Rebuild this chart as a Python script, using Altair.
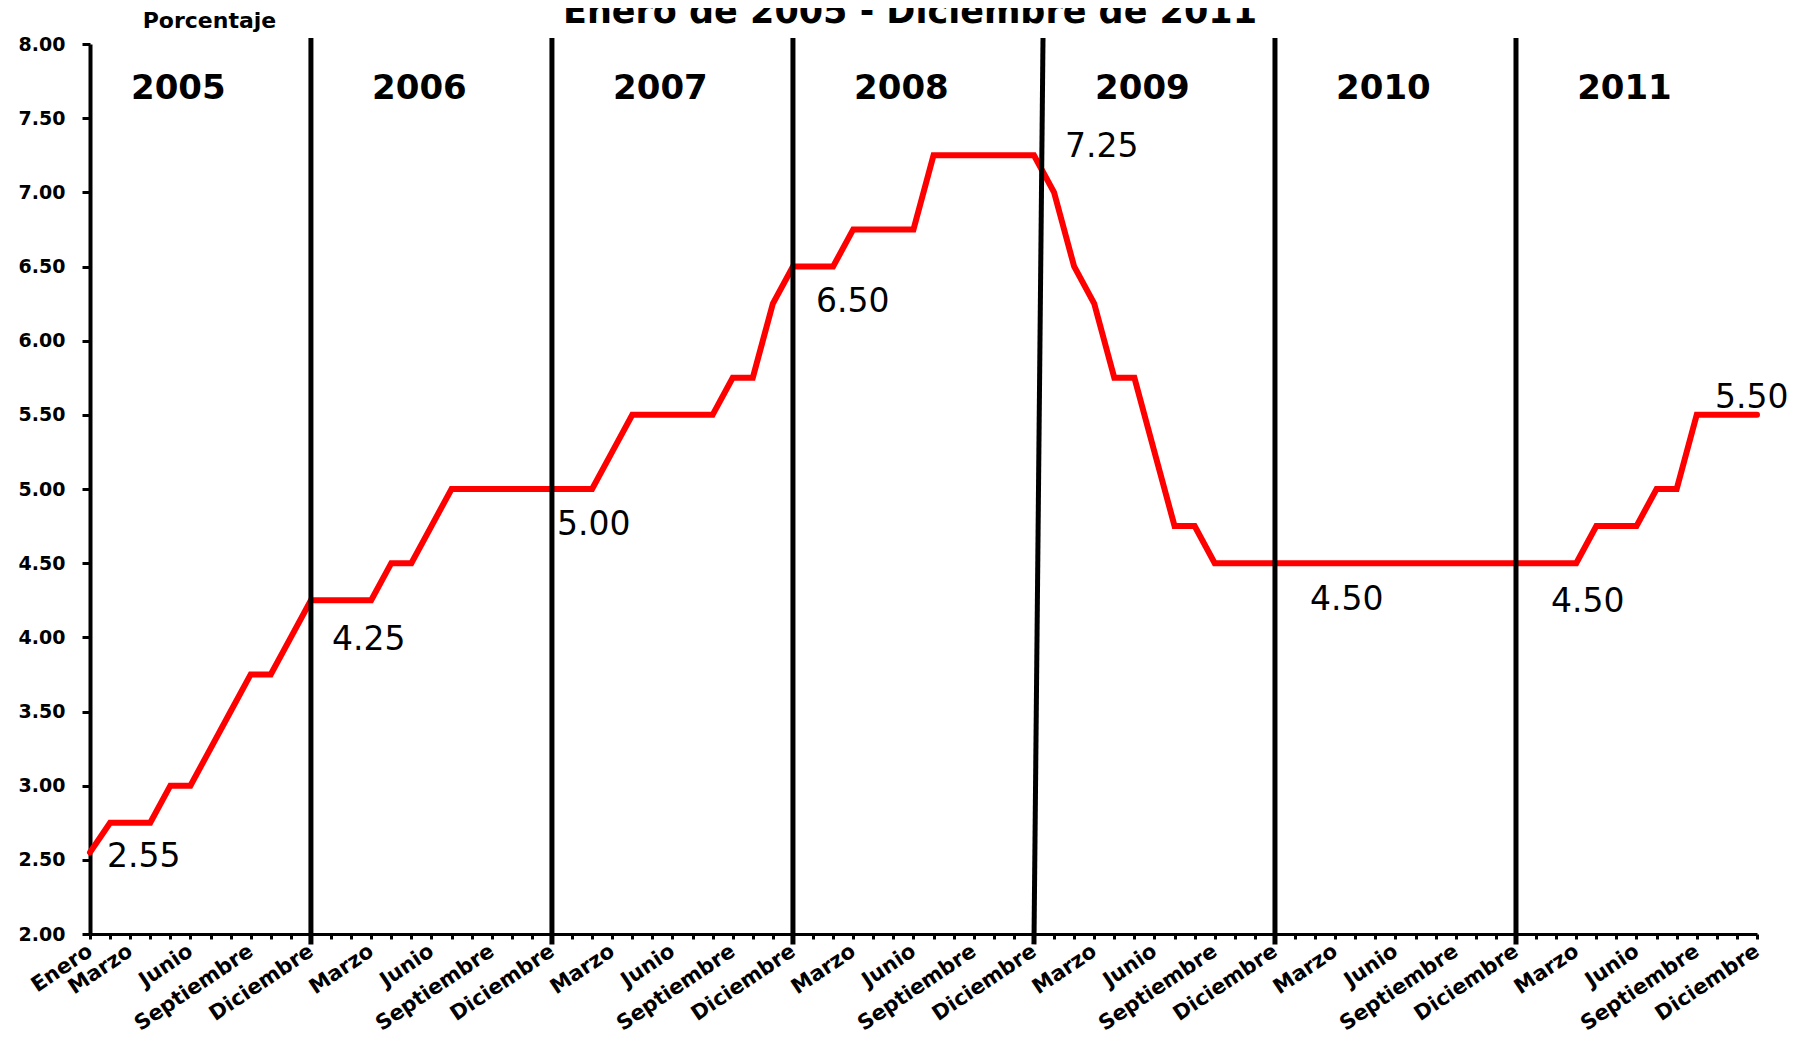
import json
import altair as alt
import pandas as pd

# ---------------- data ----------------
TITLE = "Enero de 2005 - Diciembre de 2011"
Y_TITLE = "Porcentaje"
YEARS = ["2005", "2006", "2007", "2008", "2009", "2010", "2011"]

RATE_2005 = [2.55, 2.75, 2.75, 2.75, 3.00, 3.00, 3.25, 3.50, 3.75, 3.75, 4.00, 4.25]
RATE_2006 = [4.25, 4.25, 4.25, 4.50, 4.50, 4.75, 5.00, 5.00, 5.00, 5.00, 5.00, 5.00]
RATE_2007 = [5.00, 5.00, 5.25, 5.50, 5.50, 5.50, 5.50, 5.50, 5.75, 5.75, 6.25, 6.50]
RATE_2008 = [6.50, 6.50, 6.75, 6.75, 6.75, 6.75, 7.25, 7.25, 7.25, 7.25, 7.25, 7.25]
RATE_2009 = [7.00, 6.50, 6.25, 5.75, 5.75, 5.25, 4.75, 4.75, 4.50, 4.50, 4.50, 4.50]
RATE_2010 = [4.50, 4.50, 4.50, 4.50, 4.50, 4.50, 4.50, 4.50, 4.50, 4.50, 4.50, 4.50]
RATE_2011 = [4.50, 4.50, 4.50, 4.75, 4.75, 4.75, 5.00, 5.00, 5.50, 5.50, 5.50, 5.50]
RATE = RATE_2005 + RATE_2006 + RATE_2007 + RATE_2008 + RATE_2009 + RATE_2010 + RATE_2011

TICK_LABELS = (
    ["Enero", "", "Marzo", "", "", "Junio", "", "", "Septiembre", "", "", "Diciembre"]
    + ["", "", "Marzo", "", "", "Junio", "", "", "Septiembre", "", "", "Diciembre"] * 6
)
Y_TICKS = [2.0, 2.5, 3.0, 3.5, 4.0, 4.5, 5.0, 5.5, 6.0, 6.5, 7.0, 7.5, 8.0]

LABEL_MONTHS = [0, 11, 23, 35, 47, 59, 71, 83]
SEPARATOR_MONTHS = [11, 23, 35, 47, 59, 71]

# ---------------- style ----------------
LABEL_DX = [17, 21, 5, 23, 31, 35, 35, -42]
LABEL_DY = [15, 50, 46, 45, 2, 47, 49, -7]
SEPARATOR_TILT = [0, 0, 0, 0.45, 0, 0]
YEAR_LABEL_OFFSET = 4.4
FONT = "DejaVu Sans"
RED = "#FF0000"

n = len(RATE)
df = pd.DataFrame({"month": list(range(n)), "rate": RATE})

x_scale = alt.Scale(domain=[0, n - 1], nice=False, zero=False)
y_scale = alt.Scale(domain=[2, 8], nice=False, zero=False)

label_expr = json.dumps(TICK_LABELS) + "[datum.value]"

x_axis = alt.Axis(
    values=list(range(n)), labelExpr=label_expr, title=None, grid=False,
    labelAngle=-34, labelAlign="right", labelBaseline="middle",
    labelPadding=10, labelFont=FONT, labelFontSize=21, labelFontWeight="bold",
    labelColor="black", labelOverlap=False, labelFlush=False, labelBound=False,
    tickSize=5, tickWidth=3, tickColor="black",
    domainColor="black", domainWidth=3,
)
y_axis = alt.Axis(
    values=Y_TICKS, format=".2f", grid=False,
    title=Y_TITLE, titleAngle=0, titleX=119, titleY=-17, titleAlign="center",
    titleBaseline="alphabetic", titleFont=FONT, titleFontSize=22,
    titleFontWeight="bold", titleColor="black",
    labelFont=FONT, labelFontSize=19, labelFontWeight="bold", labelColor="black",
    labelPadding=17, tickSize=8, tickWidth=3, tickColor="black",
    domainColor="black", domainWidth=4,
)


def X(field):
    return alt.X(field, scale=x_scale, axis=x_axis)


def Y(field):
    return alt.Y(field, scale=y_scale, axis=y_axis)


line = alt.Chart(df).mark_line(color=RED, strokeWidth=6, strokeCap="round").encode(
    x=X("month:Q"),
    y=Y("rate:Q"),
)

sep_df = pd.DataFrame({
    "month": SEPARATOR_MONTHS,
    "x_top": [m + t for m, t in zip(SEPARATOR_MONTHS, SEPARATOR_TILT)],
    "rate": [1.93] * len(SEPARATOR_MONTHS),
    "top": [8.04] * len(SEPARATOR_MONTHS),
})
seps = alt.Chart(sep_df).mark_rule(color="black", strokeWidth=5).encode(
    x=X("month:Q"),
    x2="x_top:Q",
    y=Y("rate:Q"),
    y2="top:Q",
)

year_df = pd.DataFrame({
    "year": YEARS,
    "month": [12 * i + YEAR_LABEL_OFFSET for i in range(len(YEARS))],
})
years = alt.Chart(year_df).mark_text(
    font=FONT, fontSize=34, fontWeight="bold", color="black",
    align="center", baseline="alphabetic",
).encode(
    x=X("month:Q"),
    y=alt.value(55),
    text="year:N",
)

title = alt.Chart(pd.DataFrame({"t": [TITLE]})).mark_text(
    font=FONT, fontSize=35, fontWeight="bold", color="black",
    align="center", baseline="alphabetic",
).encode(x=alt.value(820), y=alt.value(-21), text="t:N")

labels = []
for m, dx, dy in zip(LABEL_MONTHS, LABEL_DX, LABEL_DY):
    ldf = pd.DataFrame({"month": [m], "rate": [RATE[m]], "txt": [f"{RATE[m]:.2f}"]})
    labels.append(
        alt.Chart(ldf).mark_text(
            font=FONT, fontSize=33, color="black",
            align="left", baseline="alphabetic", dx=dx, dy=dy,
        ).encode(
            x=X("month:Q"),
            y=Y("rate:Q"),
            text="txt:N",
        )
    )

chart = alt.layer(line, seps, years, title, *labels).properties(
    width=1667, height=890,
    autosize=alt.AutoSizeParams(type="none"),
    padding={"left": 82, "top": 36, "right": 43, "bottom": 101},
    background="white",
).configure_view(stroke=None)

chart.save("out.html", embed_options={"renderer": "svg", "actions": False})
